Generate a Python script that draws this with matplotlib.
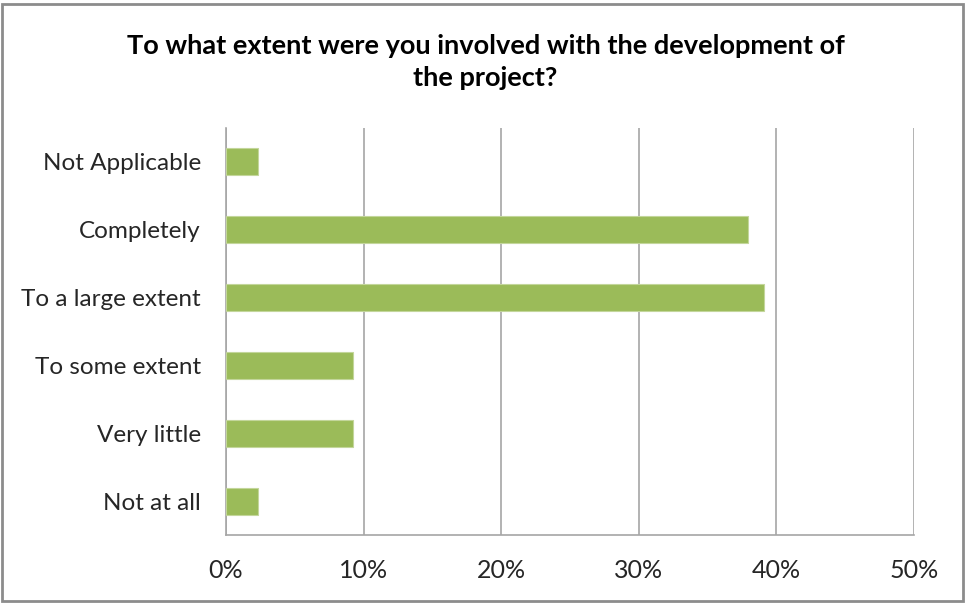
import matplotlib.pyplot as plt
from matplotlib.patches import Rectangle
from matplotlib.ticker import FuncFormatter

# Survey responses, top to bottom as shown
categories = ["Not Applicable", "Completely", "To a large extent",
              "To some extent", "Very little", "Not at all"]
percent = [2.3, 37.9, 39.1, 9.2, 9.2, 2.3]
xticks = [0, 10, 20, 30, 40, 50]

BAR = "#9bbb59"
GRID = "#a6a6a6"

plt.rcParams["font.family"] = ["Lato", "DejaVu Sans"]

fig = plt.figure(figsize=(9.65, 6.03), dpi=100)
ax = fig.add_axes([226 / 965, 1 - 535 / 603, 688 / 965, 407 / 603])

ypos = list(range(len(categories)))[::-1]
ax.barh(ypos, percent, height=0.4, color=BAR, edgecolor="#c3d69b",
        linewidth=0.8, zorder=3)

ax.set_xlim(0, 50)
ax.set_ylim(-0.5, len(categories) - 0.5)
ax.set_xticks(xticks)
ax.xaxis.set_major_formatter(FuncFormatter(lambda v, _: f"{v:.0f}%"))
ax.set_yticks(ypos)
ax.set_yticklabels(categories)
ax.tick_params(axis="x", length=0, pad=17, labelsize=18, colors="#262626")
ax.tick_params(axis="y", length=0, pad=18, labelsize=17.5, colors="#262626")

ax.grid(axis="x", color=GRID, linewidth=1.2, zorder=0)
for side in ("top", "right"):
    ax.spines[side].set_visible(False)
for side in ("left", "bottom"):
    ax.spines[side].set_color(GRID)
    ax.spines[side].set_linewidth(1.2)

fig.text(0.503, 1 - 62 / 603,
         "To what extent were you involved with the development of\nthe project?",
         ha="center", va="center", fontsize=19.5, fontweight="bold",
         linespacing=1.45, color="black")

# outer chart border
fig.patches.append(Rectangle((2 / 965, 2 / 603), 961 / 965, 597 / 603,
                             transform=fig.transFigure, fill=False,
                             edgecolor="#8c8c8c", linewidth=2))

fig.savefig("out.png", dpi=100)
